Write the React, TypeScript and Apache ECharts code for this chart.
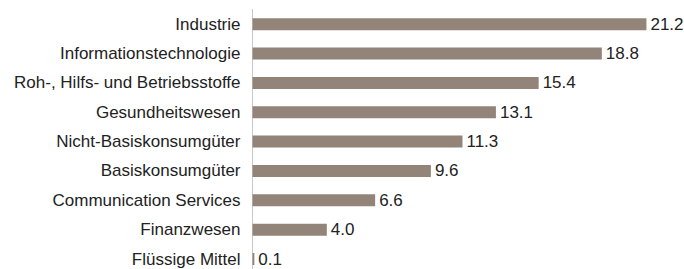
import React, { useEffect, useRef } from "react";
import * as echarts from "echarts";

const categories = [
  "Industrie",
  "Informationstechnologie",
  "Roh-, Hilfs- und Betriebsstoffe",
  "Gesundheitswesen",
  "Nicht-Basiskonsumgüter",
  "Basiskonsumgüter",
  "Communication Services",
  "Finanzwesen",
  "Flüssige Mittel",
];
const values = [21.2, 18.8, 15.4, 13.1, 11.3, 9.6, 6.6, 4.0, 0.1];

const FONT = "'Liberation Sans', Arial, sans-serif";

export default function App() {
  const ref = useRef<HTMLDivElement>(null);
  useEffect(() => {
    if (!ref.current) return;
    const chart = echarts.init(ref.current, null, { renderer: "svg" });
    chart.setOption({
      animation: false,
      grid: {
        left: 252.5,
        top: 9.5,
        width: 408.8,
        height: 264.2,
        containLabel: false,
        outerBoundsMode: "none",
      },
      xAxis: {
        type: "value",
        min: 0,
        max: 22,
        show: false,
      },
      yAxis: {
        type: "category",
        data: categories,
        inverse: true,
        axisLine: { show: true, lineStyle: { color: "#c8c8c8", width: 1 } },
        axisTick: { show: false },
        axisLabel: { color: "#222", fontSize: 17, fontFamily: FONT, margin: 12 },
        splitLine: { show: false },
      },
      series: [
        {
          type: "bar",
          data: values,
          barWidth: 12,
          itemStyle: { color: "#928479" },
          label: {
            show: true,
            position: "right",
            distance: 4,
            color: "#222",
            fontSize: 17,
            fontFamily: FONT,
            formatter: (p: any) => Number(p.value).toFixed(1),
          },
        },
      ],
    });
    return () => chart.dispose();
  }, []);
  return (
    <div
      ref={ref}
      style={{ position: "absolute", left: 0, top: 0, width: 684, height: 269 }}
    />
  );
}
